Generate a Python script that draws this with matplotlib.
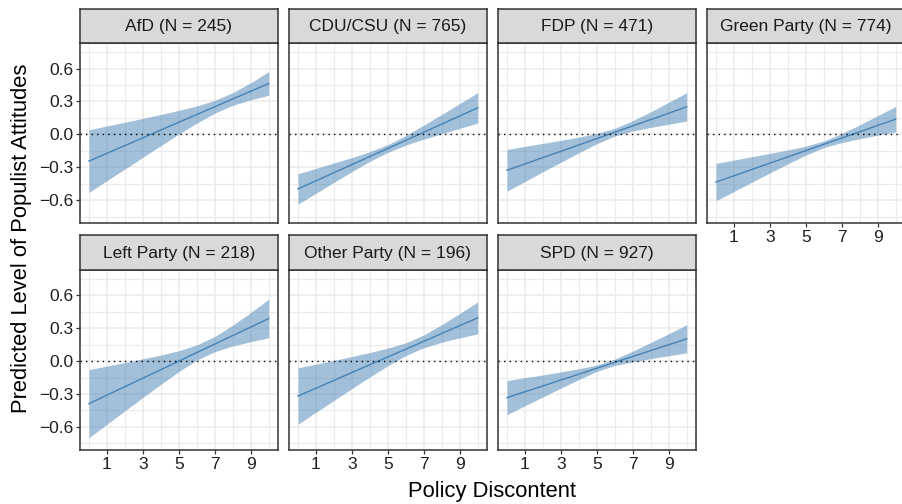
import numpy as np
import matplotlib
matplotlib.use("Agg")
import matplotlib.pyplot as plt

plt.rcParams['font.family'] = ['Liberation Sans', 'DejaVu Sans']

# policy discontent values where predictions were read
x = [0, 1, 2, 3, 4, 5, 6, 7, 8, 9, 10]

panels = ["AfD (N = 245)", "CDU/CSU (N = 765)", "FDP (N = 471)", "Green Party (N = 774)",
          "Left Party (N = 218)", "Other Party (N = 196)", "SPD (N = 927)"]

afd_fit = [-0.243, -0.172, -0.102, -0.031, 0.040, 0.111, 0.181, 0.252, 0.323, 0.393, 0.464]
afd_lo = [-0.529, -0.421, -0.315, -0.208, -0.102, 0.003, 0.103, 0.194, 0.265, 0.315, 0.356]
afd_hi = [0.043, 0.077, 0.111, 0.146, 0.182, 0.219, 0.259, 0.310, 0.381, 0.471, 0.572]

cdu_fit = [-0.497, -0.423, -0.349, -0.275, -0.201, -0.128, -0.054, 0.020, 0.094, 0.168, 0.242]
cdu_lo = [-0.636, -0.536, -0.437, -0.339, -0.245, -0.163, -0.098, -0.044, 0.006, 0.055, 0.103]
cdu_hi = [-0.358, -0.310, -0.261, -0.211, -0.157, -0.093, -0.010, 0.084, 0.182, 0.281, 0.381]

fdp_fit = [-0.327, -0.269, -0.211, -0.154, -0.096, -0.038, 0.020, 0.078, 0.135, 0.193, 0.251]
fdp_lo = [-0.517, -0.429, -0.340, -0.254, -0.167, -0.085, -0.015, 0.031, 0.064, 0.093, 0.122]
fdp_hi = [-0.137, -0.109, -0.082, -0.054, -0.025, 0.009, 0.055, 0.125, 0.206, 0.293, 0.380]

green_fit = [-0.434, -0.377, -0.319, -0.262, -0.205, -0.148, -0.090, -0.033, 0.024, 0.082, 0.139]
green_lo = [-0.604, -0.520, -0.435, -0.351, -0.268, -0.189, -0.120, -0.074, -0.039, -0.007, 0.023]
green_hi = [-0.264, -0.234, -0.203, -0.173, -0.142, -0.107, -0.060, 0.008, 0.087, 0.171, 0.255]

left_fit = [-0.388, -0.310, -0.233, -0.155, -0.078, 0.000, 0.078, 0.155, 0.233, 0.310, 0.388]
left_lo = [-0.698, -0.575, -0.453, -0.331, -0.211, -0.095, 0.009, 0.086, 0.138, 0.177, 0.212]
left_hi = [-0.078, -0.045, -0.013, 0.021, 0.055, 0.095, 0.147, 0.224, 0.328, 0.443, 0.564]

other_fit = [-0.318, -0.247, -0.176, -0.104, -0.033, 0.038, 0.109, 0.180, 0.252, 0.323, 0.394]
other_lo = [-0.575, -0.466, -0.358, -0.250, -0.144, -0.042, 0.051, 0.122, 0.172, 0.212, 0.248]
other_hi = [-0.061, -0.028, 0.006, 0.042, 0.078, 0.118, 0.167, 0.238, 0.332, 0.434, 0.540]

spd_fit = [-0.333, -0.279, -0.226, -0.172, -0.119, -0.065, -0.011, 0.042, 0.096, 0.149, 0.203]
spd_lo = [-0.488, -0.407, -0.326, -0.246, -0.168, -0.094, -0.040, -0.007, 0.022, 0.049, 0.075]
spd_hi = [-0.178, -0.151, -0.126, -0.098, -0.070, -0.036, 0.018, 0.091, 0.170, 0.249, 0.331]

fits = [afd_fit, cdu_fit, fdp_fit, green_fit, left_fit, other_fit, spd_fit]
lows = [afd_lo, cdu_lo, fdp_lo, green_lo, left_lo, other_lo, spd_lo]
highs = [afd_hi, cdu_hi, fdp_hi, green_hi, left_hi, other_hi, spd_hi]

xticks = [1, 3, 5, 7, 9]
yticks = [-0.6, -0.3, 0.0, 0.3, 0.6]

W, H = 903, 504
fig = plt.figure(figsize=(W / 100, H / 100), dpi=100)

lefts = [80, 289, 498, 707]
pw = 197.7
rows = [(43.3, 223.3), (270, 450)]
strip_h = 34.7
border = '#333333'

for i, name in enumerate(panels):
    r, c = divmod(i, 4)
    top, bot = rows[r]
    ax = fig.add_axes([lefts[c] / W, 1 - bot / H, pw / W, (bot - top) / H])
    ax.set_xlim(-0.5, 10.5)
    ax.set_ylim(-0.81, 0.83)
    ax.set_xticks(xticks)
    ax.set_xticks([0, 2, 4, 6, 8, 10], minor=True)
    ax.set_yticks(yticks)
    ax.set_yticks([-0.75, -0.45, -0.15, 0.15, 0.45, 0.75], minor=True)
    ax.grid(which='major', color='#EBEBEB', lw=1.1)
    ax.grid(which='minor', color='#EBEBEB', lw=0.8)
    ax.set_axisbelow(True)
    for s in ax.spines.values():
        s.set_color(border)
        s.set_linewidth(1.1)
    ax.tick_params(which='minor', length=0)
    ax.tick_params(which='major', length=3, width=0.9, color=border,
                   labelsize=12.5, labelcolor='#1f1f1f', pad=2)
    ax.set_yticklabels(['\u22120.6', '\u22120.3', '0.0', '0.3', '0.6'])
    if c != 0:
        ax.tick_params(axis='y', length=0, labelleft=False)
    if not (r == 1 or c == 3):
        ax.tick_params(axis='x', length=0, labelbottom=False)

    ax.fill_between(x, lows[i], highs[i], color='#4682B4', alpha=0.5, lw=0)
    ax.plot(x, fits[i], color='#4682B4', lw=1.0)
    ax.axhline(0, color='black', ls=(0, (1, 3)), lw=1.0)

    sax = fig.add_axes([lefts[c] / W, 1 - top / H, pw / W, strip_h / H])
    sax.set_facecolor('#D9D9D9')
    sax.set_xticks([])
    sax.set_yticks([])
    for s in sax.spines.values():
        s.set_color(border)
        s.set_linewidth(1.1)
    sax.text(0.5, 0.47, name, ha='center', va='center', fontsize=12.5,
             color='#1a1a1a', transform=sax.transAxes)

fig.text(22 / W, 1 - 238 / H, 'Predicted Level of Populist Attitudes', rotation=90,
         ha='center', va='center', fontsize=15.8, color='black')
fig.text(492 / W, 1 - 492 / H, 'Policy Discontent', ha='center', va='center',
         fontsize=15.8, color='black')

fig.savefig('out.png', dpi=100)
